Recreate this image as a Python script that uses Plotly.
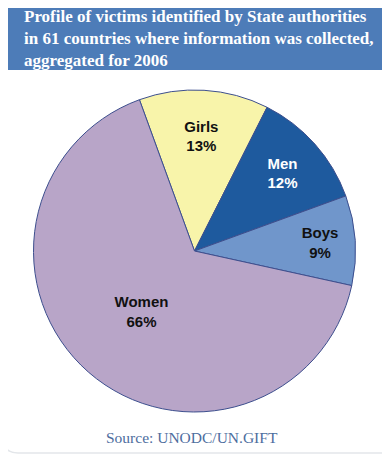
import plotly.graph_objects as go

labels = ["Girls", "Men", "Boys", "Women"]
values = [13, 12, 9, 66]
colors = ["#F8F4AA", "#1E5A9E", "#7096CB", "#B8A5C8"]
text_colors = ["#111111", "#FFFFFF", "#111111", "#111111"]

# the page body has an 8px default margin; figure is sized so it fills the window
OFF = 8
W, H = 390 - OFF, 463 - OFF
title_lines = ["Profile of victims identified by State authorities",
               "in 61 countries where information was collected,",
               "aggregated for 2006"]
source_text = "Source: UNODC/UN.GIFT"

def px(x):
    return (x - OFF) / W

def py(y):
    return 1 - (y - OFF) / H

cx, cy, r = 194.5, 251, 161

fig = go.Figure(go.Pie(
    labels=labels,
    values=values,
    sort=False,
    direction="clockwise",
    rotation=-20,
    marker=dict(colors=colors, line=dict(color="#3D4F8E", width=1)),
    texttemplate="<b>%{label}</b><br><b>%{value}%</b>",
    textposition="inside",
    insidetextorientation="horizontal",
    insidetextfont=dict(family="Liberation Sans, Arial", size=15, color=text_colors),
    hoverinfo="label+percent",
    showlegend=False,
    domain=dict(x=[px(cx - r), px(cx + r)], y=[py(cy + r), py(cy - r)]),
))

fig.update_layout(
    width=W, height=H,
    margin=dict(l=0, r=0, t=0, b=0),
    paper_bgcolor="white",
    plot_bgcolor="white",
    shapes=[
        dict(type="path", xref="paper", yref="paper",
             path=(f"M {px(3)},{py(20)} L {px(3)},{py(438)} Q {px(3)},{py(453)} {px(18)},{py(453)} "
                   f"L {px(392)},{py(453)}"),
             line=dict(color="#E3E6EA", width=1.5), layer="below"),
        dict(type="rect", xref="paper", yref="paper",
             x0=px(4), x1=px(382), y0=py(70), y1=py(3),
             fillcolor="#4D7CB8", line=dict(width=0), layer="below"),
    ],
    annotations=[
        dict(text="<br>".join(f"<b>{t}</b>" for t in title_lines),
             xref="paper", yref="paper", x=px(22), y=py(5),
             xanchor="left", yanchor="top", align="left", showarrow=False,
             font=dict(family="Liberation Serif", size=17, color="white")),
        dict(text=source_text, xref="paper", yref="paper", x=px(192), y=py(437),
             xanchor="center", yanchor="middle", showarrow=False,
             font=dict(family="Liberation Serif", size=15.5, color="#4D6D9E")),
    ],
)

fig.write_html("out.html")
